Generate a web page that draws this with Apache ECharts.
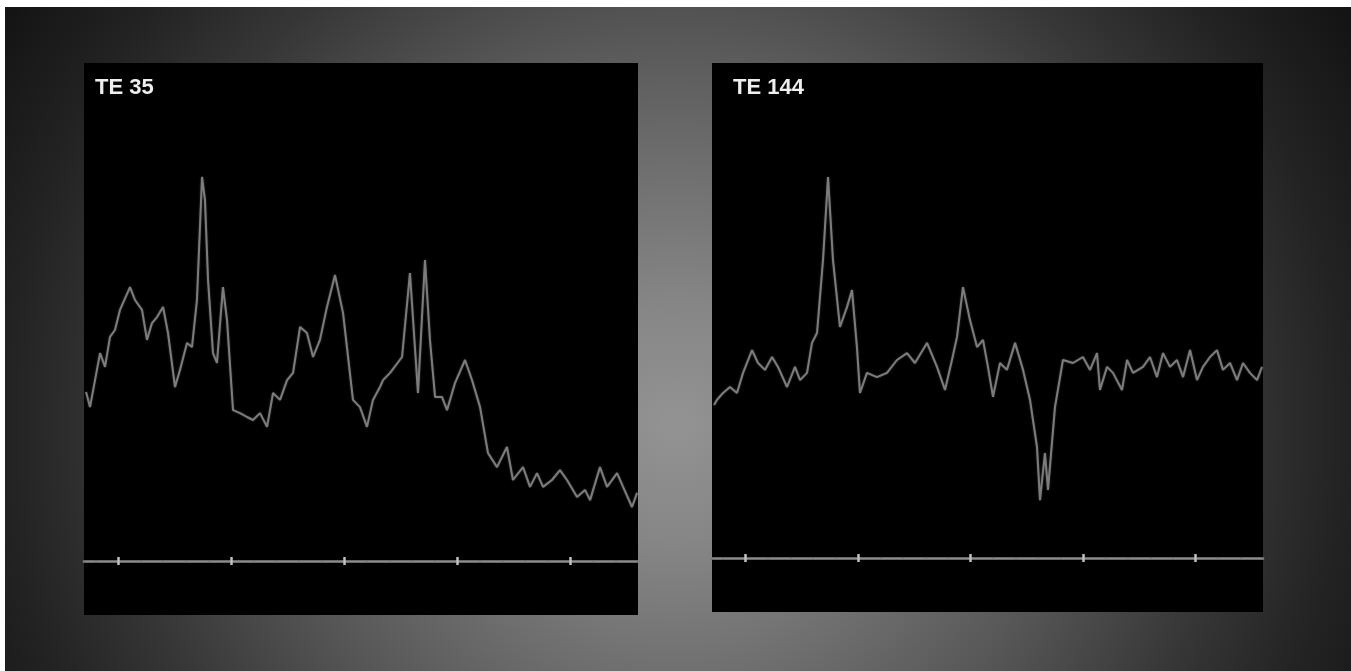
<!DOCTYPE html>
<html>
<head>
<meta charset="utf-8">
<title>TE 35 / TE 144</title>
<script src="https://cdn.jsdelivr.net/npm/echarts@6/dist/echarts.min.js"></script>
<style>
  html, body { margin: 0; padding: 0; background: #fff; }
  #chart { width: 1351px; height: 671px; }
</style>
</head>
<body>
<div id="chart"></div>
<script>
    // panel captions
    var panelTitles = ['TE 35', 'TE 144']
    // ppm positions of the big ticks on the baseline
    var majorTicks = [4, 3, 2, 1, 0]

    // [ppm, signal]
    var te35 = [
        [4.282, 56.3], [4.247, 51.3], [4.158, 69.3], [4.114, 64.7], [4.070, 74.7],
        [4.026, 77.0], [3.982, 83.7], [3.893, 91.3], [3.849, 87.0], [3.787, 83.7],
        [3.743, 73.7], [3.699, 79.3], [3.654, 81.3], [3.601, 84.7], [3.557, 76.0],
        [3.495, 58.0], [3.451, 63.7], [3.389, 72.7], [3.345, 71.3], [3.301, 87.0],
        [3.256, 128.0], [3.230, 120.3], [3.203, 93.7], [3.159, 69.3], [3.124, 66.0],
        [3.071, 91.3], [3.035, 80.3], [2.982, 50.3], [2.920, 49.3], [2.858, 48.0],
        [2.805, 47.0], [2.743, 49.3], [2.681, 44.7], [2.628, 56.0], [2.566, 53.7],
        [2.504, 60.3], [2.451, 62.7], [2.389, 78.0], [2.328, 76.0], [2.274, 68.0],
        [2.213, 73.7], [2.151, 84.7], [2.080, 95.3], [2.009, 82.7], [1.921, 53.7],
        [1.859, 51.3], [1.797, 44.7], [1.744, 53.7], [1.682, 58.0], [1.655, 60.3],
        [1.593, 62.7], [1.487, 68.0], [1.417, 96.0], [1.346, 56.0], [1.284, 100.3],
        [1.240, 73.7], [1.195, 54.7], [1.134, 54.7], [1.089, 50.3], [1.019, 59.3],
        [0.930, 67.0], [0.868, 60.3], [0.797, 51.3], [0.727, 36.0], [0.647, 31.3],
        [0.559, 38.0], [0.506, 27.0], [0.417, 31.3], [0.355, 24.7], [0.293, 29.3],
        [0.240, 24.7], [0.161, 27.0], [0.090, 30.3], [0.028, 27.0], [-0.061, 21.3],
        [-0.131, 23.7], [-0.176, 20.3], [-0.264, 31.3], [-0.326, 24.7], [-0.415, 29.3],
        [-0.468, 24.7], [-0.547, 18.0], [-0.592, 22.7]
    ]

    var te144 = [
        [4.282, 51.0], [4.256, 52.7], [4.202, 55.0], [4.140, 57.0], [4.078, 55.0],
        [4.024, 61.7], [3.944, 69.3], [3.891, 65.0], [3.829, 62.7], [3.766, 67.0],
        [3.713, 63.7], [3.633, 57.0], [3.562, 63.7], [3.517, 59.3], [3.455, 61.7],
        [3.411, 71.7], [3.366, 75.0], [3.313, 99.3], [3.268, 127.0], [3.224, 99.3],
        [3.162, 77.0], [3.099, 83.7], [3.055, 89.3], [3.011, 70.3], [2.984, 55.0],
        [2.922, 61.7], [2.833, 60.3], [2.744, 61.7], [2.655, 66.0], [2.566, 68.3],
        [2.495, 65.0], [2.388, 71.7], [2.299, 63.7], [2.228, 56.0], [2.166, 66.0],
        [2.121, 73.7], [2.068, 90.3], [2.006, 79.3], [1.943, 70.3], [1.890, 72.7],
        [1.846, 63.7], [1.801, 53.7], [1.739, 65.0], [1.677, 62.7], [1.605, 71.7],
        [1.534, 62.7], [1.472, 52.7], [1.410, 37.0], [1.383, 19.3], [1.339, 35.0],
        [1.312, 22.7], [1.250, 50.3], [1.179, 66.0], [1.090, 65.0], [1.001, 67.0],
        [0.938, 62.7], [0.876, 68.3], [0.850, 56.0], [0.787, 63.7], [0.734, 61.7],
        [0.654, 56.0], [0.609, 66.0], [0.556, 61.7], [0.467, 63.7], [0.405, 67.0],
        [0.343, 60.3], [0.289, 68.3], [0.227, 63.7], [0.165, 66.0], [0.111, 60.3],
        [0.049, 69.3], [-0.013, 59.3], [-0.066, 63.7], [-0.129, 67.0], [-0.191, 69.3],
        [-0.244, 62.7], [-0.307, 65.0], [-0.369, 59.3], [-0.422, 65.0], [-0.484, 61.7],
        [-0.547, 59.3], [-0.591, 63.7]
    ]

    var myChart = echarts.init(document.getElementById('chart'))

    // three x axes per panel: baseline + small ticks, big ticks down, big ticks up
    function panelAxes (gridIndex) {
        var base = {
            type: 'value',
            gridIndex: gridIndex,
            min: -0.6,
            max: 4.3,
            inverse: true,
            position: 'bottom',
            offset: -54,
            axisLabel: { show: false },
            splitLine: { show: false }
        }
        var line = Object.assign({}, base, {
            interval: 0.2,
            axisLine: { show: true, onZero: false, lineStyle: { color: '#8c8c8c', width: 2.5 } },
            axisTick: { show: true, length: 2, lineStyle: { color: '#707070', width: 1.5 } }
        })
        var down = Object.assign({}, base, {
            axisLine: { show: false, onZero: false },
            axisTick: { show: true, length: 4, customValues: majorTicks, lineStyle: { color: '#c0c0c0', width: 2.5 } }
        })
        var up = Object.assign({}, base, {
            axisLine: { show: false, onZero: false },
            axisTick: { show: true, inside: true, length: 4, customValues: majorTicks, lineStyle: { color: '#c0c0c0', width: 2.5 } }
        })
        return [line, down, up]
    }

    var lineStyle = {
        color: '#7c7c7c',
        width: 2,
        shadowColor: 'rgba(130,130,130,0.5)',
        shadowBlur: 2
    }

    var titleStyle = { color: '#eeeeee', fontSize: 22, fontWeight: 'bold', fontFamily: 'Liberation Sans' }

    var option = {
        animation: false,
        backgroundColor: new echarts.graphic.RadialGradient(0.5, 0.63, 1.18, [
            { offset: 0, color: '#939393' },
            { offset: 0.15, color: '#868686' },
            { offset: 0.35, color: '#6b6b6b' },
            { offset: 0.5, color: '#565656' },
            { offset: 0.7, color: '#363636' },
            { offset: 0.85, color: '#222222' },
            { offset: 1, color: '#131313' }
        ]),
        title: [
            { text: panelTitles[0], left: 90, top: 72, textStyle: titleStyle },
            { text: panelTitles[1], left: 728, top: 72, textStyle: titleStyle }
        ],
        grid: [
            { left: 84, top: 63, width: 554, height: 552, show: true, backgroundColor: '#000', borderWidth: 0 },
            { left: 712, top: 63, width: 551, height: 549, show: true, backgroundColor: '#000', borderWidth: 0 }
        ],
        xAxis: panelAxes(0).concat(panelAxes(1)),
        yAxis: [
            { type: 'value', gridIndex: 0, min: -18, max: 166, show: false },
            { type: 'value', gridIndex: 1, min: -18, max: 165, show: false }
        ],
        series: [
            {
                name: panelTitles[0],
                type: 'line',
                xAxisIndex: 0,
                yAxisIndex: 0,
                data: te35,
                showSymbol: false,
                lineStyle: lineStyle,
                silent: true
            },
            {
                name: panelTitles[1],
                type: 'line',
                xAxisIndex: 3,
                yAxisIndex: 1,
                data: te144,
                showSymbol: false,
                lineStyle: lineStyle,
                silent: true
            }
        ],
        graphic: [
            // white strips along the top and left edge of the slide
            { type: 'rect', left: 0, top: 0, shape: { width: 1351, height: 7 }, style: { fill: '#fff' }, z: 100 },
            { type: 'rect', left: 0, top: 0, shape: { width: 5, height: 671 }, style: { fill: '#fff' }, z: 100 }
        ]
    }

    myChart.setOption(option)
</script>
</body>
</html>
